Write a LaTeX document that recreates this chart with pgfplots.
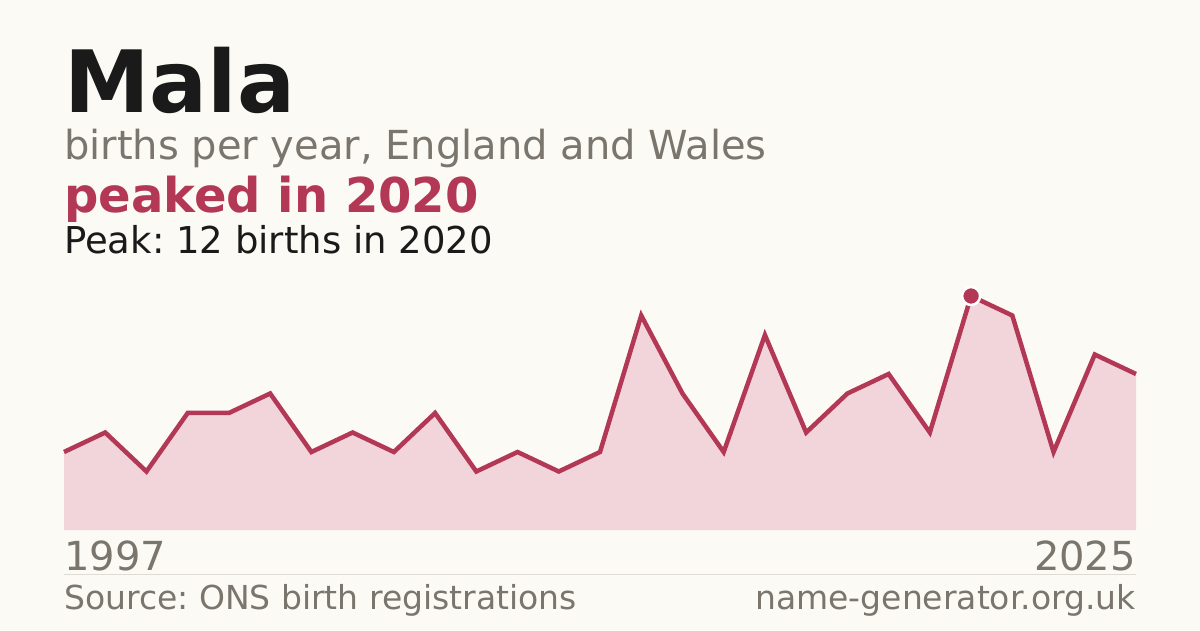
\documentclass[border=0pt]{standalone}
\usepackage{pgfplots}
\pgfplotsset{compat=1.18}
\usepackage{fontspec}
\setmainfont{DejaVu Sans}
\frenchspacing
\definecolor{bg}{HTML}{FBFAF5}
\definecolor{crim}{HTML}{B33856}
\definecolor{pinkfill}{HTML}{F2D5DB}
\definecolor{graytxt}{HTML}{7A756D}
\definecolor{titletxt}{HTML}{1A1A1A}
\definecolor{rule}{HTML}{DEDBD4}
\pgfplotstableread{
i v
0 4
1 5
2 3
3 6
4 6
5 7
6 4
7 5
8 4
9 6
10 3
11 4
12 3
13 4
14 11
15 7
16 4
17 10
18 5
19 7
20 8
21 5
22 12
23 11
24 4
25 9
26 8
}\births
\begin{document}
\begin{tikzpicture}[x=1pt,y=1pt]
\fill[bg] (0,0) rectangle (1200,630);
\path[use as bounding box] (0,0) rectangle (1200,630);
\node[anchor=base west, inner sep=0pt, text=titletxt, font=\fontsize{86}{96}\selectfont\bfseries] at (64,517) {Mala};
\node[anchor=base west, inner sep=0pt, text=graytxt, font=\fontsize{40}{46}\selectfont] at (64,470) {births per year, England and Wales};
\node[anchor=base west, inner sep=0pt, text=crim, font=\fontsize{48}{54}\selectfont\bfseries] at (64,417) {peaked in 2020};
\node[anchor=base west, inner sep=0pt, text=titletxt, font=\fontsize{37}{43}\selectfont] at (64,376) {Peak: 12 births in 2020};
\begin{axis}[
  at={(64pt,100pt)}, anchor=south west,
  scale only axis, width=1072pt, height=234pt,
  xmin=0, xmax=26, ymin=0, ymax=12,
  hide axis, clip=false]
\addplot[fill=pinkfill, draw=none] table[x=i,y=v]{\births} \closedcycle;
\addplot[crim, line width=4.5pt, line join=miter] table[x=i,y=v]{\births};
\addplot[only marks, mark=*, mark size=9pt, mark options={fill=crim, draw=white, line width=2.5pt}] coordinates {(22,12)};
\end{axis}
\draw[rule, line width=1pt] (64,56) -- (1136,56);
\node[anchor=base west, inner sep=0pt, text=graytxt, font=\fontsize{40}{46}\selectfont] at (64,60) {1997};
\node[anchor=base east, inner sep=0pt, text=graytxt, font=\fontsize{40}{46}\selectfont] at (1136,60) {2025};
\node[anchor=base west, inner sep=0pt, text=graytxt, font=\fontsize{33}{39}\selectfont] at (64,21) {Source: ONS birth registrations};
\node[anchor=base east, inner sep=0pt, text=graytxt, font=\fontsize{33}{39}\selectfont] at (1136,21) {name-generator.org.uk};
\end{tikzpicture}
\end{document}
